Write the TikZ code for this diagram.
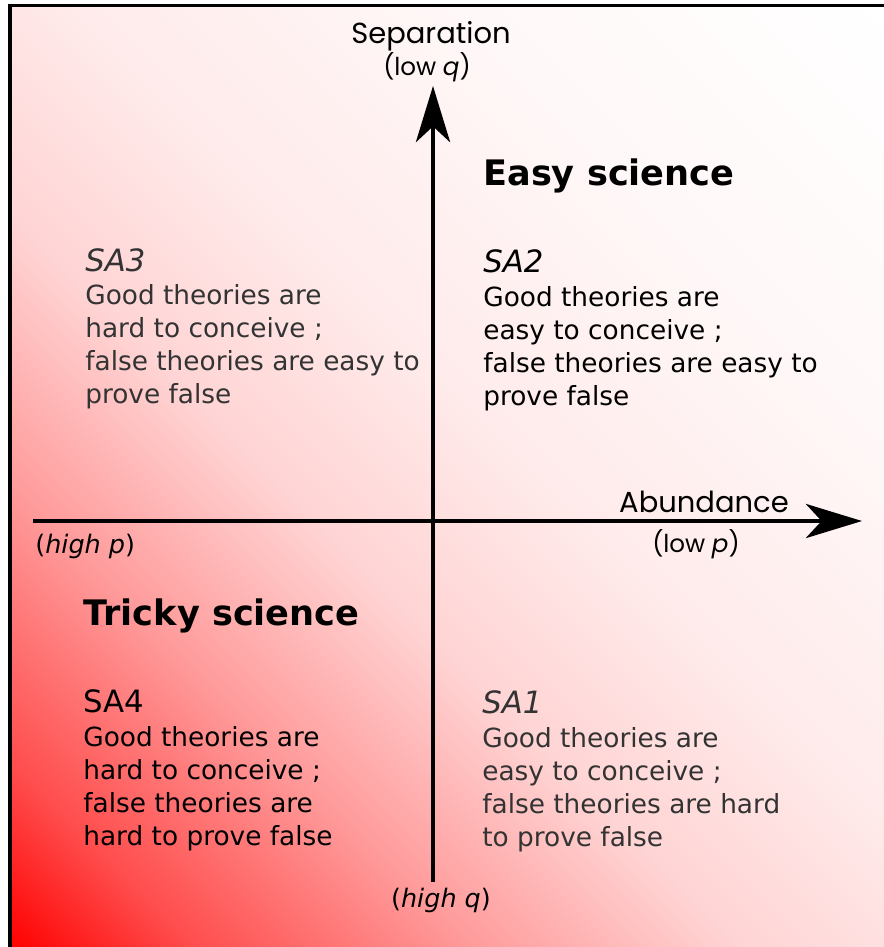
\documentclass[tikz,border=0pt]{standalone}
\usepackage{fontspec}
\setmainfont{DejaVu Sans}
\newfontfamily\axisfont{Poppins}
\usetikzlibrary{arrows.meta}
\definecolor{txtgrey}{HTML}{333333}
\colorlet{bgA}{red!70!white}
\colorlet{bgB}{red!40!white}
\colorlet{bgC}{red!17!white}
\colorlet{bgD}{red!8!white}
\colorlet{bgE}{red!3!white}
\pgfdeclarehorizontalshading{bgshade}{100bp}{color(0bp)=(red); color(25bp)=(red); color(30bp)=(bgA); color(37.5bp)=(bgB); color(45bp)=(bgC); color(52.5bp)=(bgD); color(62.5bp)=(bgE); color(75bp)=(white); color(100bp)=(white)}
\begin{document}
\begin{tikzpicture}[x=0.02cm,y=-0.02cm,
  body/.style={anchor=base west, align=left, inner sep=0pt, font=\fontsize{15}{18.6}\selectfont},
  lab/.style={anchor=base west, inner sep=0pt, font=\fontsize{17.5}{21}\selectfont},
  head/.style={anchor=base west, inner sep=0pt, font=\fontsize{20}{24}\selectfont\bfseries},
  axlab/.style={anchor=base, inner sep=0pt, font=\axisfont\fontsize{16.5}{20}\selectfont},
  axsub/.style={anchor=base, inner sep=0pt, font=\axisfont\fontsize{14}{17}\selectfont},
  axsubdv/.style={anchor=base west, inner sep=0pt, font=\fontsize{14.5}{18}\selectfont},
  axisline/.style={line width=1.9pt, -{Stealth[length=32pt, width=19.5pt, inset=9pt]}},
  frameline/.style={line width=2.2pt, black}]
\useasboundingbox (0,0) rectangle (884,947);
% background gradient
\begin{scope}
  \clip (10,5.5) rectangle (884,947);
  \shade[shading=bgshade, transform canvas={shift={(10,947)}, rotate=45}] (0,-1400) rectangle (1288,1400);
\end{scope}
% frame
\draw[frameline] (10,950) -- (10,5.5) -- (890,5.5);
% axes
\coordinate (hstart) at (33,521);
\coordinate (hend) at (862,521);
\coordinate (vstart) at (433,882);
\coordinate (vend) at (433,86);
\draw[axisline] (hstart) -- (hend);
\draw[axisline] (vstart) -- (vend);
% axis labels
\node[axlab] (sep) at (431,43) {Separation};
\node[axsub] (lowq) at (427,75) {(low \textit{q})};
\node[axlab] (abund) at (704,512) {Abundance};
\node[axsub] (lowp) at (696,552) {(low \textit{p})};
\node[axsubdv] (highp) at (35,553) {(\textit{high p})};
\node[axsubdv, anchor=base] (highq) at (441,907) {(\textit{high q})};
% headings
\node[head] (easy) at (483,185) {Easy science};
\node[head] (tricky) at (83,625) {Tricky science};
% SA3
\node[lab, text=txtgrey] (sa3) at (85,271) {\itshape SA3};
\node[body, text=txtgrey] (sa3t) at (85,403) {Good theories are\\hard to conceive ;\\false theories are easy to\\prove false};
% SA2
\node[lab] (sa2) at (483,272) {\itshape SA2};
\node[body] (sa2t) at (483,405) {Good theories are\\easy to conceive ;\\false theories are easy to\\prove false};
% SA4
\node[lab] (sa4) at (83,712) {SA4};
\node[body] (sa4t) at (83,845) {Good theories are\\hard to conceive ;\\false theories are\\hard to prove false};
% SA1
\node[lab, text=txtgrey] (sa1) at (482,713) {\itshape SA1};
\node[body, text=txtgrey] (sa1t) at (482,846) {Good theories are\\easy to conceive ;\\false theories are hard\\to prove false};
\end{tikzpicture}
\end{document}
